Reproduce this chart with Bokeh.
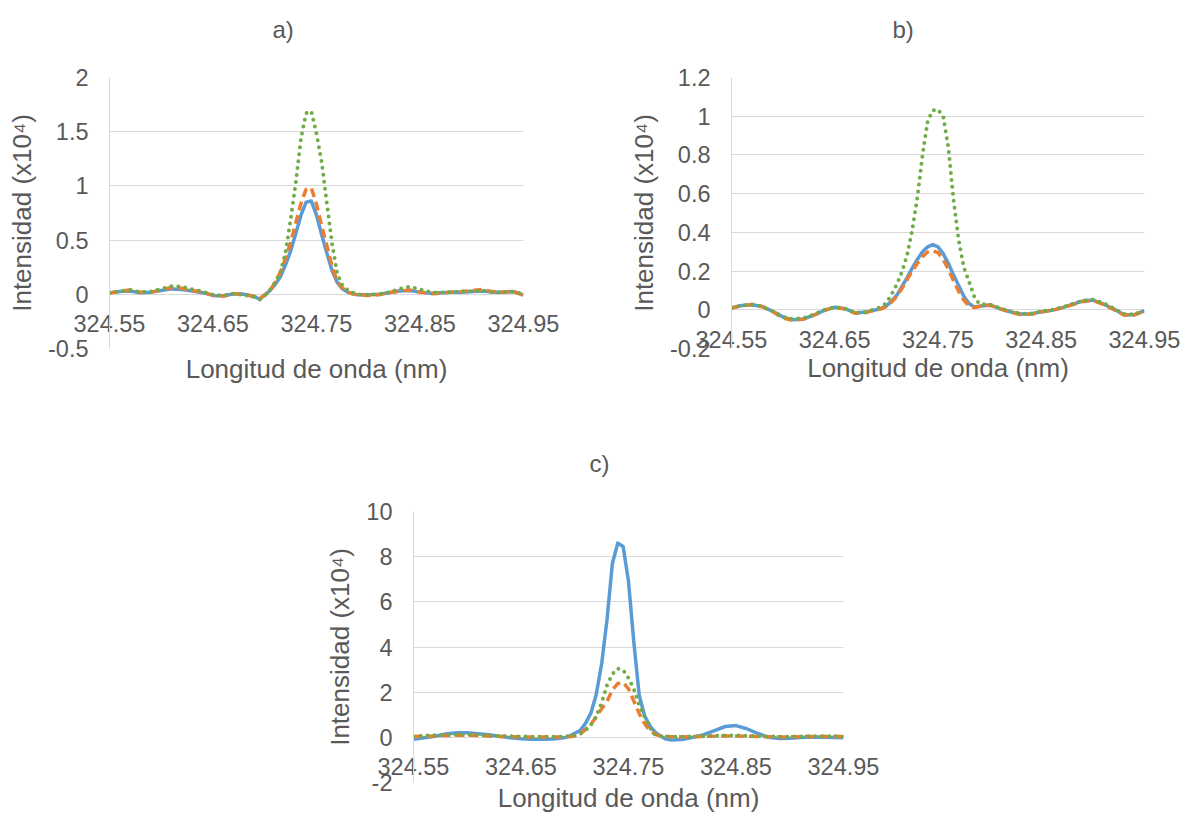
from bokeh.plotting import figure
from bokeh.layouts import column, row
from bokeh.models import FixedTicker, Range1d, Title
from bokeh.embed import file_html
from bokeh.resources import INLINE

# ---------------- data ----------------
wl = [324.55, 324.56, 324.57, 324.58, 324.59, 324.60, 324.61, 324.62, 324.63, 324.64, 324.65, 324.66, 324.67, 324.68,
      324.69, 324.695, 324.70, 324.705, 324.71, 324.715, 324.72, 324.725, 324.73, 324.735, 324.74, 324.745,
      324.75, 324.755, 324.76, 324.765, 324.77, 324.775, 324.78, 324.785, 324.79,
      324.80, 324.81, 324.82, 324.83, 324.84, 324.85, 324.86, 324.87, 324.88, 324.89, 324.90, 324.91, 324.92,
      324.93, 324.94, 324.95]

a_blue = [0.015, 0.025, 0.03, 0.015, 0.02, 0.035, 0.05, 0.045, 0.03, 0.015, -0.01, -0.015, 0.005, 0.0,
          -0.02, -0.045, -0.01, 0.035, 0.09, 0.16, 0.27, 0.40, 0.56, 0.73, 0.85, 0.86, 0.73, 0.55, 0.38, 0.22,
          0.11, 0.05, 0.02, 0.005, -0.005,
          -0.005, 0.0, 0.015, 0.03, 0.035, 0.02, 0.01, 0.015, 0.02, 0.02, 0.025, 0.03, 0.02, 0.02, 0.025, -0.005]
a_orange = [0.01, 0.03, 0.04, 0.02, 0.02, 0.04, 0.065, 0.055, 0.035, 0.02, -0.01, -0.015, 0.005, 0.0,
            -0.02, -0.04, -0.005, 0.035, 0.11, 0.20, 0.33, 0.48, 0.66, 0.84, 0.97, 0.98, 0.83, 0.63, 0.45, 0.26,
            0.12, 0.06, 0.02, 0.005, -0.005,
            -0.01, -0.005, 0.015, 0.03, 0.04, 0.02, 0.005, 0.01, 0.02, 0.025, 0.035, 0.045, 0.025, 0.02, 0.03, -0.01]
a_green = [0.01, 0.03, 0.04, 0.02, 0.025, 0.05, 0.075, 0.07, 0.045, 0.025, -0.005, -0.01, 0.005, -0.005,
           -0.025, -0.05, -0.01, 0.04, 0.11, 0.20, 0.38, 0.69, 1.03, 1.44, 1.67, 1.69, 1.48, 1.22, 0.84, 0.47,
           0.19, 0.08, 0.04, 0.015, 0.0,
           -0.005, 0.0, 0.02, 0.05, 0.07, 0.045, 0.02, 0.015, 0.02, 0.025, 0.03, 0.035, 0.02, 0.02, 0.025, 0.0]

b_blue = [0.009, 0.022, 0.026, 0.017, -0.008, -0.038, -0.052, -0.047, -0.027, -0.003, 0.013, 0.006, -0.017, -0.012,
          0.0, 0.006, 0.02, 0.045, 0.075, 0.12, 0.165, 0.215, 0.26, 0.30, 0.325, 0.337, 0.325, 0.29, 0.24, 0.18,
          0.125, 0.07, 0.032, 0.015, 0.018,
          0.025, 0.006, -0.01, -0.022, -0.022, -0.01, -0.003, 0.01, 0.028, 0.045, 0.05, 0.03, 0.005, -0.025, -0.025, -0.005]
b_orange = [0.009, 0.022, 0.027, 0.016, -0.01, -0.043, -0.055, -0.048, -0.027, -0.003, 0.013, 0.004, -0.018, -0.015,
            0.0, 0.005, 0.018, 0.04, 0.068, 0.11, 0.155, 0.20, 0.24, 0.275, 0.298, 0.305, 0.295, 0.26, 0.21, 0.15,
            0.095, 0.05, 0.02, 0.012, 0.017,
            0.024, 0.005, -0.012, -0.024, -0.023, -0.011, -0.004, 0.01, 0.026, 0.043, 0.048, 0.028, 0.002, -0.027, -0.027, -0.006]
b_green = [0.01, 0.022, 0.027, 0.016, -0.008, -0.037, -0.048, -0.043, -0.024, 0.0, 0.014, 0.006, -0.015, -0.012,
           0.005, 0.017, 0.035, 0.08, 0.13, 0.195, 0.28, 0.41, 0.58, 0.80, 0.975, 1.03, 1.035, 1.0, 0.84, 0.57,
           0.36, 0.22, 0.145, 0.07, 0.03,
           0.028, 0.008, -0.008, -0.02, -0.02, -0.008, 0.0, 0.012, 0.03, 0.047, 0.053, 0.035, 0.008, -0.022, -0.024, -0.004]

c_blue = [-0.08, -0.02, 0.05, 0.15, 0.2, 0.2, 0.16, 0.11, 0.05, -0.02, -0.06, -0.08, -0.09, -0.07,
          -0.02, 0.06, 0.18, 0.3, 0.62, 1.07, 1.9, 3.25, 5.2, 7.7, 8.6, 8.45, 6.9, 4.2, 1.85, 0.95,
          0.5, 0.22, 0.05, -0.08, -0.12,
          -0.1, 0.0, 0.12, 0.3, 0.48, 0.52, 0.38, 0.18, 0.0, -0.05, -0.04, -0.01, 0.01, 0.0, -0.01, -0.02]
c_orange = [0.04, 0.05, 0.06, 0.08, 0.09, 0.09, 0.08, 0.06, 0.04, 0.03, 0.02, 0.02, 0.02, 0.02,
            0.02, 0.03, 0.06, 0.15, 0.35, 0.58, 0.9, 1.27, 1.58, 2.1, 2.38, 2.43, 2.15, 1.6, 1.05, 0.6,
            0.3, 0.13, 0.06, 0.04, 0.03,
            0.02, 0.03, 0.04, 0.05, 0.06, 0.06, 0.05, 0.04, 0.03, 0.02, 0.02, 0.03, 0.04, 0.04, 0.04, 0.03]
c_green = [0.05, 0.07, 0.09, 0.1, 0.12, 0.12, 0.1, 0.08, 0.06, 0.05, 0.04, 0.03, 0.03, 0.03,
           0.03, 0.05, 0.08, 0.15, 0.3, 0.55, 0.93, 1.53, 2.3, 2.8, 3.05, 2.98, 2.62, 2.13, 1.42, 0.9,
           0.43, 0.1, 0.05, 0.04, 0.03,
           0.03, 0.04, 0.05, 0.07, 0.08, 0.08, 0.07, 0.05, 0.04, 0.03, 0.03, 0.04, 0.05, 0.05, 0.05, 0.04]

x_ticks = [324.55, 324.65, 324.75, 324.85, 324.95]
x_labels = ["324.55", "324.65", "324.75", "324.85", "324.95"]

a_yticks = [-0.5, 0, 0.5, 1, 1.5, 2]
a_ylabels = ["-0.5", "0", "0.5", "1", "1.5", "2"]
b_yticks = [-0.2, 0, 0.2, 0.4, 0.6, 0.8, 1, 1.2]
b_ylabels = ["-0.2", "0", "0.2", "0.4", "0.6", "0.8", "1", "1.2"]
c_yticks = [-2, 0, 2, 4, 6, 8, 10]
c_ylabels = ["-2", "0", "2", "4", "6", "8", "10"]

titles = ["a)", "b)", "c)"]
x_title = "Longitud de onda (nm)"
y_title = "Intensidad (x10\u2074)"

# ---------------- style ----------------
FONT = "Liberation Sans"
TXT = "#595959"
GRID = "#d9d9d9"
BLUE = "#5B9BD5"
ORANGE = "#ED7D31"
GREEN = "#70AD47"


def make(title, series, yticks, ylabels, title_off, xlab_standoff, xtitle_standoff,
         mbl, mbr, mbt, mbb, fw, fh):
    p = figure(frame_width=fw, frame_height=fh,
               min_border_left=mbl, min_border_right=mbr,
               min_border_top=mbt, min_border_bottom=mbb,
               x_range=Range1d(x_ticks[0], x_ticks[-1]),
               y_range=Range1d(yticks[0], yticks[-1]),
               output_backend="svg", toolbar_location=None)
    p.outline_line_color = None
    p.background_fill_color = "white"
    p.border_fill_color = "white"

    # y axis
    yt = FixedTicker(ticks=yticks)
    p.yaxis.ticker = yt
    p.yaxis.major_label_overrides = {t: l for t, l in zip(yticks, ylabels)}
    p.yaxis.major_tick_out = 0
    p.yaxis.major_tick_in = 0
    p.yaxis.minor_tick_line_color = None
    p.yaxis.axis_line_color = GRID
    p.yaxis.major_label_standoff = 21
    p.yaxis.major_label_text_font = FONT
    p.yaxis.major_label_text_font_size = "23.5px"
    p.yaxis.major_label_text_color = TXT
    p.yaxis.axis_label = y_title
    p.yaxis.axis_label_text_font = FONT
    p.yaxis.axis_label_text_font_size = "26px"
    p.yaxis.axis_label_text_font_style = "normal"
    p.yaxis.axis_label_text_color = TXT
    p.yaxis.axis_label_standoff = 8

    # x axis: tick labels pulled up to sit just under the y = 0 line
    xa = p.xaxis[0]
    xa.ticker = FixedTicker(ticks=x_ticks)
    xa.major_label_overrides = {t: l for t, l in zip(x_ticks, x_labels)}
    xa.axis_line_color = None
    xa.major_tick_line_color = None
    xa.minor_tick_line_color = None
    xa.major_tick_out = 0
    xa.major_tick_in = 0
    xa.major_label_standoff = xlab_standoff
    xa.major_label_text_font = FONT
    xa.major_label_text_font_size = "23.5px"
    xa.major_label_text_color = TXT
    xa.axis_label = x_title
    xa.axis_label_standoff = xtitle_standoff
    xa.axis_label_text_font = FONT
    xa.axis_label_text_font_size = "26px"
    xa.axis_label_text_font_style = "normal"
    xa.axis_label_text_color = TXT

    # blank spacer between the frame and the chart title
    p.add_layout(Title(text=" ", standoff=0, text_font=FONT, text_font_size="24px"), "above")
    p.add_layout(Title(text=title, align="left", offset=title_off, standoff=11,
                       text_font=FONT, text_font_size="24px", text_font_style="normal",
                       text_color=TXT), "above")

    p.xgrid.visible = False
    p.ygrid.ticker = yt
    p.ygrid.grid_line_color = GRID
    p.ygrid.grid_line_width = 1

    blue, orange, green = series
    p.line(wl, blue, line_color=BLUE, line_width=3.5, line_join="round")
    p.line(wl, orange, line_color=ORANGE, line_width=3.5, line_dash="9 5", line_join="round")
    p.line(wl, green, line_color=GREEN, line_width=4, line_dash="0 7", line_cap="round")
    return p


pa = make(titles[0], (a_blue, a_orange, a_green), a_yticks, a_ylabels, 163, -34, 19,
          109, 97, 77, 82, 414, 271)
pb = make(titles[1], (b_blue, b_orange, b_green), b_yticks, b_ylabels, 161, -18, 2,
          111, 40, 77, 82, 413, 271)
pc = make(titles[2], (c_blue, c_orange, c_green), c_yticks, c_ylabels, 176, -25, 5,
          413, 40, 81, 36, 430, 271)

layout = column(row(pa, pb), pc)

open("out.html", "w").write(file_html(layout, INLINE))
